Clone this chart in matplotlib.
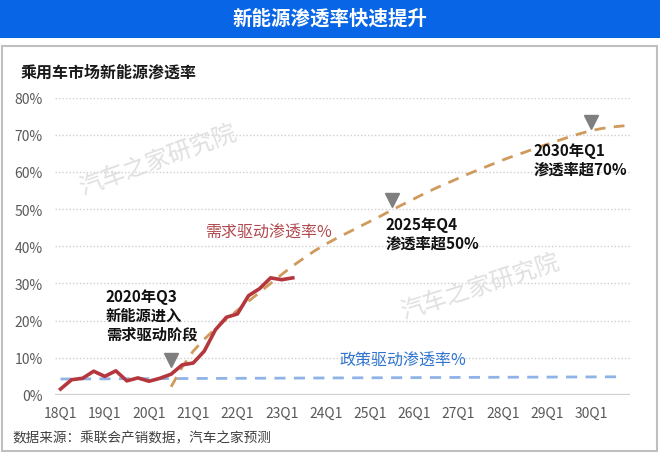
import matplotlib
matplotlib.use("Agg")
import matplotlib.pyplot as plt
from matplotlib.patches import Rectangle

plt.rcParams['font.family'] = ['Noto Sans CJK SC', 'DejaVu Sans']

# ---------------- data ----------------
quarters = [f"{y}Q{q}" for y in range(18, 31) for q in range(1, 5)]  # 18Q1 .. 30Q4
tick_labels = ["18Q1", "19Q1", "20Q1", "21Q1", "22Q1", "23Q1", "24Q1",
               "25Q1", "26Q1", "27Q1", "28Q1", "29Q1", "30Q1"]
yticks = [0, 10, 20, 30, 40, 50, 60, 70, 80]

# actual penetration (%), 18Q1 .. 23Q2
actual = [1.6, 4.1, 4.5, 6.4, 5.0, 6.5, 3.8, 4.6, 3.7, 4.5, 5.6,
          8.1, 8.6, 11.8, 17.5, 20.9, 21.8, 26.7, 28.6, 31.5, 31.0, 31.5]

# demand-driven forecast (%), 20Q3 .. 30Q4
forecast_start = 10
forecast = [2.2, 7.5, 11.8, 15.0, 17.8, 20.4, 22.8, 25.2, 27.6, 30.0,
            32.4, 34.7, 36.8, 38.8, 40.6, 42.2, 43.7, 45.2, 46.7, 48.2,
            49.8, 51.3, 52.8, 54.3, 55.7, 57.0, 58.3, 59.6, 60.8, 62.0,
            63.2, 64.3, 65.3, 66.4, 67.4, 68.4, 69.4, 70.3, 71.1, 71.7,
            72.1, 72.4]

# policy-driven level (%), at 18Q1 and 30Q4
policy_idx = [0, 51]
policy = [4.3, 4.9]

# milestone markers
milestone_idx = [10, 30, 48]
milestone_vals = [9.4, 52.5, 73.4]

# ---------------- figure ----------------
W, H = 660, 456
fig = plt.figure(figsize=(W / 100, H / 100), dpi=100)
fig.patch.set_facecolor("white")

def fx(x):
    return x / W

def fy(y):
    return 1 - y / H

# title banner
fig.patches.append(Rectangle((0, fy(39)), 1, 39 / H, transform=fig.transFigure,
                             facecolor="#0866e6", edgecolor="none", zorder=0))
fig.text(0.5, fy(19), "新能源渗透率快速提升", color="white", fontsize=14,
         fontweight="bold", ha="center", va="center")

# panel border
fig.patches.append(Rectangle((fx(2), fy(452)), fx(655), (452 - 47) / H,
                             transform=fig.transFigure, facecolor="none",
                             edgecolor="#bfbfbf", linewidth=1.5, zorder=0))

fig.text(fx(21), fy(73), "乘用车市场新能源渗透率", fontsize=11.5,
         fontweight="bold", color="#1a1a1a", ha="left", va="center")

ax = fig.add_axes([fx(55), fy(396), (630 - 55) / W, (396 - 98.5) / H])
ax.set_facecolor("none")
ax.set_xlim(-0.5, len(quarters) - 0.5)
ax.set_ylim(0, 80)

for s in ax.spines.values():
    s.set_visible(False)

ax.set_yticks(yticks)
ax.set_yticklabels([f"{v}%" for v in yticks])
tick_pos = [quarters.index(t) for t in tick_labels]
ax.set_xticks(tick_pos)
ax.set_xticklabels(tick_labels)
ax.tick_params(axis="both", length=0, labelsize=10, labelcolor="#595959")
ax.tick_params(axis="y", pad=9)
ax.tick_params(axis="x", pad=8)

ax.yaxis.grid(True, linestyle=(0, (1, 1.5)), color="#cfcfcf", linewidth=1)
ax.set_axisbelow(True)
ax.axhline(0, color="#d0d0d0", linewidth=1.6, zorder=1)

# policy line
ax.plot(policy_idx, policy, color="#8fb3e6", linewidth=2,
        dashes=(4, 3), zorder=2)

# forecast
f_idx = list(range(forecast_start, forecast_start + len(forecast)))
ax.plot(f_idx, forecast, color="#cf9a5c", linewidth=2, dashes=(4, 3), zorder=3)

# actual
ax.plot(range(len(actual)), actual, color="#b5373d", linewidth=2.6,
        solid_joinstyle="round", zorder=4)

# markers
ax.plot(milestone_idx, milestone_vals, linestyle="none", marker="v",
        markersize=10, color="#7f7f7f", zorder=5)

# annotations
fig.text(fx(106), fy(289), "2020年Q3\n新能源进入\n需求驱动阶段", fontsize=11,
         fontweight="bold", color="#111111", ha="left", va="top", linespacing=1.2)
fig.text(fx(386), fy(217), "2025年Q4\n渗透率超50%", fontsize=11,
         fontweight="bold", color="#111111", ha="left", va="top", linespacing=1.2)
fig.text(fx(534), fy(143), "2030年Q1\n渗透率超70%", fontsize=11,
         fontweight="bold", color="#111111", ha="left", va="top", linespacing=1.2)

fig.text(fx(206), fy(233), "需求驱动渗透率%", fontsize=11.5, color="#b04a4f",
         ha="left", va="center")
fig.text(fx(340), fy(361), "政策驱动渗透率%", fontsize=11.5, color="#2e74d0",
         ha="left", va="center")

# watermarks
fig.text(fx(158), fy(160), "汽车之家研究院", fontsize=17, color="#e0e0e0",
         rotation=20, ha="center", va="center", zorder=0)
fig.text(fx(480), fy(287), "汽车之家研究院", fontsize=17, color="#e0e0e0",
         rotation=18, ha="center", va="center", zorder=0)

fig.text(fx(12), fy(438), "数据来源：乘联会产销数据，汽车之家预测", fontsize=9.8,
         color="#404040", ha="left", va="center")

fig.savefig("out.png", dpi=100, facecolor="white")
